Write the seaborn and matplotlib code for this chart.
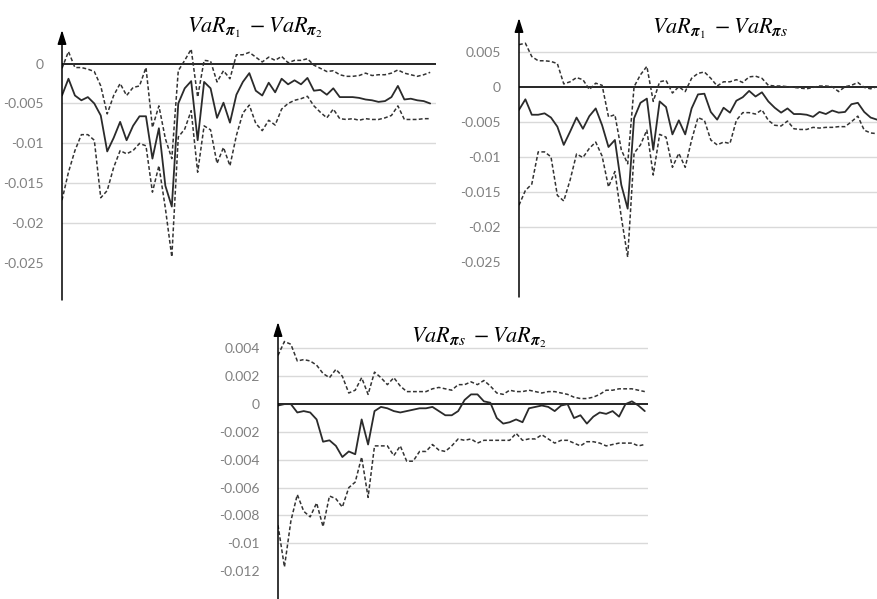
import numpy as np
import pandas as pd
import matplotlib.pyplot as plt
import seaborn as sns

# panel 1: VaR_pi1 - VaR_pi2
p1_mid = [-0.0040, -0.0019, -0.0040, -0.0046, -0.0042, -0.0050, -0.0065, -0.0110, -0.0093, -0.0073,
          -0.0096, -0.0078, -0.0066, -0.0066, -0.0119, -0.0081, -0.0153, -0.0179, -0.0050, -0.0031,
          -0.0022, -0.0096, -0.0023, -0.0031, -0.0068, -0.0049, -0.0074, -0.0039, -0.0023, -0.0012,
          -0.0034, -0.0040, -0.0024, -0.0036, -0.0019, -0.0026, -0.0021, -0.0026, -0.0018, -0.0034,
          -0.0033, -0.0039, -0.0031, -0.0042, -0.0042, -0.0042, -0.0043, -0.0045, -0.0046, -0.0048,
          -0.0047, -0.0042, -0.0028, -0.0045, -0.0044, -0.0046, -0.0047, -0.0050]
p1_hi = [-0.0006, 0.0015, -0.0005, -0.0005, -0.0007, -0.0010, -0.0028, -0.0063, -0.0040, -0.0025,
         -0.0040, -0.0030, -0.0028, -0.0005, -0.0080, -0.0053, -0.0094, -0.0119, -0.0009, 0.0004,
         0.0018, -0.0042, 0.0004, 0.0003, -0.0023, -0.0009, -0.0019, 0.0011, 0.0011, 0.0014,
         0.0008, 0.0002, 0.0008, 0.0004, 0.0009, 0.0001, 0.0004, 0.0004, 0.0006, -0.0002,
         -0.0006, -0.0010, -0.0009, -0.0014, -0.0016, -0.0016, -0.0015, -0.0012, -0.0015, -0.0014,
         -0.0014, -0.0012, -0.0008, -0.0012, -0.0014, -0.0016, -0.0014, -0.0011]
p1_lo = [-0.0171, -0.0136, -0.0109, -0.0089, -0.0089, -0.0096, -0.0168, -0.0159, -0.0130, -0.0109,
         -0.0113, -0.0109, -0.0100, -0.0103, -0.0161, -0.0128, -0.0181, -0.0242, -0.0092, -0.0082,
         -0.0059, -0.0136, -0.0078, -0.0083, -0.0125, -0.0105, -0.0128, -0.0090, -0.0062, -0.0052,
         -0.0075, -0.0084, -0.0071, -0.0077, -0.0057, -0.0050, -0.0046, -0.0044, -0.0041, -0.0053,
         -0.0061, -0.0068, -0.0057, -0.0069, -0.0070, -0.0069, -0.0071, -0.0069, -0.0070, -0.0070,
         -0.0068, -0.0065, -0.0053, -0.0070, -0.0070, -0.0070, -0.0069, -0.0069]
p1_ticks = [0, -0.005, -0.01, -0.015, -0.02, -0.025]
p1_labels = ['0', '-0.005', '-0.01', '-0.015', '-0.02', '-0.025']

# panel 2: VaR_pi1 - VaR_pis
p2_mid = [-0.0033, -0.0018, -0.0040, -0.0040, -0.0038, -0.0044, -0.0057, -0.0083, -0.0064, -0.0044,
          -0.0060, -0.0042, -0.0031, -0.0055, -0.0086, -0.0076, -0.0140, -0.0174, -0.0045, -0.0023,
          -0.0017, -0.0090, -0.0021, -0.0029, -0.0068, -0.0048, -0.0068, -0.0031, -0.0011,
          -0.0010, -0.0036, -0.0047, -0.0030, -0.0037, -0.0020, -0.0015, -0.0006, -0.0014, -0.0008,
          -0.0021, -0.0030, -0.0037, -0.0031, -0.0039, -0.0039, -0.0040, -0.0043, -0.0036, -0.0039,
          -0.0034, -0.0037, -0.0036, -0.0025, -0.0023, -0.0036, -0.0044, -0.0047]
p2_hi = [0.0060, 0.0062, 0.0043, 0.0037, 0.0037, 0.0036, 0.0033, 0.0004, 0.0007, 0.0013,
         0.0010, -0.0004, 0.0005, 0.0002, -0.0043, -0.0040, -0.0090, -0.0110, 0.0000, 0.0017,
         0.0029, -0.0021, 0.0007, 0.0009, -0.0009, 0.0000, -0.0007, 0.0012, 0.0019,
         0.0021, 0.0012, 0.0001, 0.0007, 0.0007, 0.0010, 0.0006, 0.0014, 0.0015, 0.0012,
         0.0002, 0.0001, 0.0001, 0.0000, -0.0001, -0.0002, -0.0003, -0.0001, 0.0001, 0.0001,
         0.0000, -0.0007, 0.0000, 0.0002, 0.0006, -0.0001, -0.0003, 0.0000]
p2_lo = [-0.0169, -0.0148, -0.0139, -0.0093, -0.0093, -0.0100, -0.0155, -0.0163, -0.0133, -0.0096,
         -0.0101, -0.0088, -0.0079, -0.0099, -0.0143, -0.0121, -0.0186, -0.0243, -0.0095, -0.0083,
         -0.0062, -0.0126, -0.0068, -0.0072, -0.0115, -0.0095, -0.0115, -0.0076, -0.0044,
         -0.0048, -0.0076, -0.0083, -0.0079, -0.0081, -0.0048, -0.0037, -0.0037, -0.0039, -0.0033,
         -0.0048, -0.0055, -0.0056, -0.0049, -0.0060, -0.0061, -0.0061, -0.0058, -0.0059, -0.0058,
         -0.0058, -0.0057, -0.0057, -0.0050, -0.0042, -0.0062, -0.0066, -0.0067]
p2_ticks = [0.005, 0, -0.005, -0.01, -0.015, -0.02, -0.025]
p2_labels = ['0.005', '0', '-0.005', '-0.01', '-0.015', '-0.02', '-0.025']

# panel 3: VaR_pis - VaR_pi2
p3_mid = [-0.0001, 0.0000, 0.0000, -0.0006, -0.0005, -0.0006, -0.0011, -0.0027, -0.0026, -0.0030,
          -0.0038, -0.0034, -0.0036, -0.0011, -0.0029, -0.0005, -0.0002, -0.0003, -0.0005, -0.0006,
          -0.0005, -0.0004, -0.0003, -0.0003, -0.0002, -0.0005, -0.0008, -0.0008, -0.0005,
          0.0003, 0.0007, 0.0007, 0.0002, 0.0001, -0.0010, -0.0014, -0.0013, -0.0011, -0.0013,
          -0.0003, -0.0002, -0.0001, -0.0002, -0.0005, -0.0001, 0.0000, -0.0010, -0.0008, -0.0014,
          -0.0009, -0.0006, -0.0007, -0.0005, -0.0009, 0.0000, 0.0002, -0.0001, -0.0005]
p3_hi = [0.0035, 0.0045, 0.0043, 0.0031, 0.0032, 0.0031, 0.0028, 0.0022, 0.0019, 0.0025,
         0.0020, 0.0008, 0.0010, 0.0019, 0.0007, 0.0023, 0.0019, 0.0014, 0.0019, 0.0013,
         0.0009, 0.0009, 0.0009, 0.0009, 0.0011, 0.0012, 0.0011, 0.0010, 0.0014,
         0.0014, 0.0016, 0.0014, 0.0017, 0.0013, 0.0008, 0.0007, 0.0010, 0.0009, 0.0009,
         0.0010, 0.0009, 0.0008, 0.0009, 0.0009, 0.0008, 0.0007, 0.0005, 0.0004, 0.0004,
         0.0005, 0.0007, 0.0010, 0.0010, 0.0011, 0.0011, 0.0011, 0.0010, 0.0009]
p3_lo = [-0.0087, -0.0117, -0.0084, -0.0065, -0.0077, -0.0081, -0.0071, -0.0088, -0.0066, -0.0068,
         -0.0074, -0.0060, -0.0056, -0.0038, -0.0067, -0.0030, -0.0030, -0.0030, -0.0037, -0.0030,
         -0.0041, -0.0041, -0.0034, -0.0034, -0.0029, -0.0033, -0.0034, -0.0030, -0.0025,
         -0.0026, -0.0025, -0.0028, -0.0026, -0.0026, -0.0026, -0.0026, -0.0026, -0.0021, -0.0026,
         -0.0025, -0.0025, -0.0022, -0.0025, -0.0028, -0.0026, -0.0026, -0.0028, -0.0030, -0.0027,
         -0.0027, -0.0028, -0.0030, -0.0029, -0.0028, -0.0028, -0.0028, -0.0030, -0.0029]
p3_ticks = [0.004, 0.002, 0, -0.002, -0.004, -0.006, -0.008, -0.01, -0.012]
p3_labels = ['0.004', '0.002', '0', '-0.002', '-0.004', '-0.006', '-0.008', '-0.01', '-0.012']

titles = [r'$VaR_{\boldsymbol{\pi}_1}\ -VaR_{\boldsymbol{\pi}_2}$',
          r'$VaR_{\boldsymbol{\pi}_1}\ -VaR_{\boldsymbol{\pi}s}$',
          r'$VaR_{\boldsymbol{\pi}s}\ -VaR_{\boldsymbol{\pi}_2}$']

sns.set_theme(style='white')
plt.rcParams['font.family'] = ['Lato', 'DejaVu Sans']
plt.rcParams['mathtext.fontset'] = 'stix'

W, H = 877, 599
fig = plt.figure(figsize=(W / 100, H / 100), dpi=100)


def panel(px, mid, hi, lo, ylim, ticks, labels, xmax):
    left, right, top, bottom = px
    ax = fig.add_axes([left / W, 1 - bottom / H, (right - left) / W, (bottom - top) / H])
    df = pd.DataFrame({'t': np.arange(len(mid)), 'mid': mid, 'hi': hi, 'lo': lo})
    for t in ticks[:-1]:
        if t != 0:
            ax.axhline(t, color='#d9d9d9', lw=1, zorder=0)
    ax.axhline(0, color='black', lw=1.2, zorder=1)
    sns.lineplot(data=df, x='t', y='hi', ax=ax, color='#333333', lw=1.1,
                 linestyle=(0, (2.5, 1.5)), zorder=2)
    sns.lineplot(data=df, x='t', y='lo', ax=ax, color='#333333', lw=1.1,
                 linestyle=(0, (2.5, 1.5)), zorder=2)
    sns.lineplot(data=df, x='t', y='mid', ax=ax, color='#2b2b2b', lw=1.3, zorder=3)
    ax.set_xlim(0, xmax)
    ax.set_ylim(*ylim)
    ax.set_xticks([])
    ax.set_yticks(ticks)
    ax.set_yticklabels(labels)
    ax.tick_params(axis='y', length=0, pad=13, labelcolor='#808080', labelsize=10)
    ax.set_xlabel('')
    ax.set_ylabel('')
    for s in ax.spines.values():
        s.set_visible(False)
    ax.annotate('', xy=(0, 1), xycoords='axes fraction', xytext=(0, 0),
                textcoords='axes fraction',
                arrowprops=dict(arrowstyle='-|>,head_length=0.7,head_width=0.22',
                                color='black', lw=1.1, shrinkA=0, shrinkB=0))
    return ax


panel((62, 436, 30, 300), p1_mid, p1_hi, p1_lo, (-0.0296, 0.0042), p1_ticks, p1_labels, 57.9)
panel((519, 877, 18, 297), p2_mid, p2_hi, p2_lo, (-0.0300, 0.0098), p2_ticks, p2_labels, 56.0)
panel((278, 648, 322, 599), p3_mid, p3_hi, p3_lo, (-0.0140, 0.0059), p3_ticks, p3_labels, 57.5)

for (cx, cy), title in zip([(255, 28), (720, 29), (479, 338)], titles):
    fig.text(cx / W, 1 - cy / H, title, ha='center', va='center', fontsize=16, color='black')

fig.savefig('out.png', dpi=100)
